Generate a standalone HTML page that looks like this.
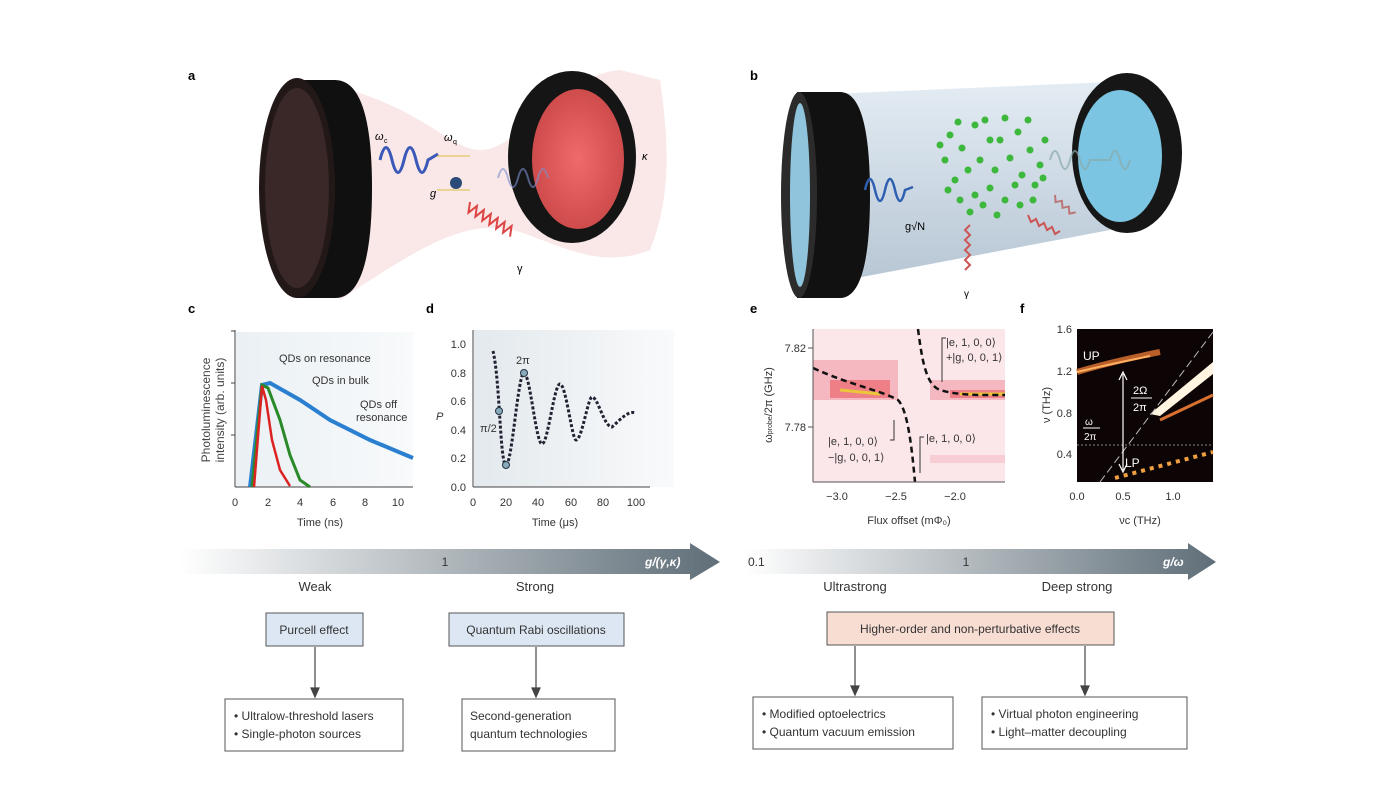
<!DOCTYPE html>
<html><head><meta charset="utf-8"><style>
body{margin:0;background:#fff;}
svg{display:block;font-family:"Liberation Sans",sans-serif;}
</style></head><body>
<svg width="1400" height="800" viewBox="0 0 1400 800" xmlns="http://www.w3.org/2000/svg">
<defs>
<linearGradient id="arrL" x1="0" x2="1" y1="0" y2="0"><stop offset="0" stop-color="#fff"/><stop offset="1" stop-color="#5f6e78"/></linearGradient>
<linearGradient id="tube" x1="0" x2="0" y1="0" y2="1"><stop offset="0" stop-color="#e4ecf3"/><stop offset="0.5" stop-color="#cdd9e4"/><stop offset="1" stop-color="#b7c6d4"/></linearGradient>
<radialGradient id="redface" cx="0.5" cy="0.5" r="0.6"><stop offset="0" stop-color="#f06a6a"/><stop offset="1" stop-color="#c94646"/></radialGradient>
<linearGradient id="bgc" x1="0" x2="1"><stop offset="0" stop-color="#eaf0f4"/><stop offset="1" stop-color="#f8fafb"/></linearGradient>
<linearGradient id="bgd" x1="0" x2="1"><stop offset="0" stop-color="#e3e9ed"/><stop offset="1" stop-color="#f9fafb"/></linearGradient>
</defs>

<!-- Panel a -->
<text x="188" y="80" font-size="13" font-weight="bold">a</text>
<path d="M330,85 C420,105 450,150 480,150 C520,150 560,75 620,70 L660,80 C670,150 670,200 650,250 C600,270 560,245 520,232 C470,218 430,240 340,300 Z" fill="#f9e4e4" opacity="0.9"/>
<path d="M297,80 L335,80 Q372,80 372,188 Q372,298 335,298 L297,298 Z" fill="#101010"/>
<ellipse cx="297" cy="188" rx="38" ry="110" fill="#231818"/>
<ellipse cx="297" cy="188" rx="32" ry="100" fill="#3a2727"/>
<ellipse cx="572" cy="157" rx="64" ry="86" fill="#151515"/>
<ellipse cx="578" cy="159" rx="46" ry="70" fill="url(#redface)"/>
<path d="M380,160 q6,-25 12,0 t12,0 t12,0 t12,0 l10,-6" fill="none" stroke="#3a58b8" stroke-width="3"/>
<path d="M498,178 q5,-18 10,0 t10,0 t10,0 t10,0 t10,0" fill="none" stroke="#7b90d0" stroke-width="2" opacity="0.6"/>
<path d="M470,202 l4,10 l4,-10 l4,10 l4,-10 l4,10 l4,-10 l4,10 l4,-10 l4,10 l4,-10 l4,10 l4,-10 l4,10" fill="none" stroke="#d44" stroke-width="2" transform="rotate(30 470 202)"/>
<circle cx="456" cy="183" r="6" fill="#2a4a78"/>
<line x1="437" y1="156" x2="470" y2="156" stroke="#d8c040" stroke-width="1"/>
<line x1="437" y1="190" x2="470" y2="190" stroke="#d8c040" stroke-width="1"/>
<text x="375" y="140" font-size="11" font-style="italic">ω</text><text x="384" y="143" font-size="7">c</text>
<text x="444" y="141" font-size="11" font-style="italic">ω</text><text x="453" y="144" font-size="7">q</text>
<text x="430" y="197" font-size="11" font-style="italic">g</text>
<text x="642" y="160" font-size="11" font-style="italic">κ</text>
<text x="517" y="272" font-size="11">γ</text>

<!-- Panel b -->
<text x="750" y="80" font-size="13" font-weight="bold">b</text>
<path d="M830,94 L1110,82 L1110,230 L830,283 Z" fill="url(#tube)"/>
<path d="M797,92 L840,92 Q870,92 870,195 Q870,298 840,298 L797,298 Z" fill="#111"/>
<ellipse cx="799" cy="195" rx="18" ry="103" fill="#2b2b2b"/>
<ellipse cx="800" cy="195" rx="10" ry="92" fill="#8fc4dc"/>
<ellipse cx="1127" cy="153" rx="55" ry="80" fill="#161616"/>
<ellipse cx="1120" cy="156" rx="42" ry="66" fill="#7cc5e2"/>
<g fill="#3db83d">
<circle cx="950" cy="135" r="3.5"/><circle cx="962" cy="148" r="3.5"/><circle cx="945" cy="160" r="3.5"/><circle cx="975" cy="125" r="3.5"/><circle cx="990" cy="140" r="3.5"/><circle cx="1005" cy="118" r="3.5"/><circle cx="1018" cy="132" r="3.5"/><circle cx="1030" cy="150" r="3.5"/><circle cx="1040" cy="165" r="3.5"/><circle cx="955" cy="180" r="3.5"/><circle cx="968" cy="170" r="3.5"/><circle cx="980" cy="160" r="3.5"/><circle cx="995" cy="170" r="3.5"/><circle cx="1010" cy="158" r="3.5"/><circle cx="1022" cy="175" r="3.5"/><circle cx="1035" cy="185" r="3.5"/><circle cx="960" cy="200" r="3.5"/><circle cx="975" cy="195" r="3.5"/><circle cx="990" cy="188" r="3.5"/><circle cx="1005" cy="200" r="3.5"/><circle cx="1020" cy="205" r="3.5"/><circle cx="970" cy="212" r="3.5"/><circle cx="997" cy="215" r="3.5"/><circle cx="985" cy="120" r="3.5"/><circle cx="1028" cy="120" r="3.5"/><circle cx="940" cy="145" r="3.5"/><circle cx="1045" cy="140" r="3.5"/><circle cx="958" cy="122" r="3.5"/><circle cx="1000" cy="140" r="3.5"/><circle cx="1015" cy="185" r="3.5"/><circle cx="948" cy="190" r="3.5"/><circle cx="983" cy="205" r="3.5"/><circle cx="1033" cy="200" r="3.5"/><circle cx="1043" cy="178" r="3.5"/>
</g>
<path d="M865,190 q5,-22 10,0 t10,0 t10,0 t10,0 l8,-3" fill="none" stroke="#2f5fb0" stroke-width="2.5"/>
<path d="M1050,160 q5,-18 10,0 t10,0 t10,0 t10,0 l20,0 q5,-18 10,0 t10,0" fill="none" stroke="#8aa" stroke-width="2" opacity="0.7"/>
<path d="M970,225 l-5,5 l5,5 l-5,5 l5,5 l-5,5 l5,5 l-5,5 l5,5 l-5,5" fill="none" stroke="#c55" stroke-width="2"/>
<path d="M1028,215 l3,7 l5,-3 l3,7 l5,-3 l3,7 l5,-3 l3,7 l5,-3" fill="none" stroke="#c55" stroke-width="2"/>
<path d="M1055,195 l5,5 l4,-5 l5,5 l4,-5 l5,5 l4,-5" fill="none" stroke="#b77" stroke-width="2" transform="rotate(40 1055 195)"/>
<text x="905" y="230" font-size="11">g√N</text>
<text x="964" y="297" font-size="10">γ</text>

<!-- Panel c -->
<text x="188" y="313" font-size="13" font-weight="bold">c</text>
<rect x="236" y="332" width="177" height="155" fill="url(#bgc)"/>
<line x1="235" y1="330" x2="235" y2="487" stroke="#444"/>
<line x1="235" y1="487" x2="413" y2="487" stroke="#444"/>
<g stroke="#444"><line x1="231" y1="383" x2="235" y2="383"/><line x1="231" y1="435" x2="235" y2="435"/><line x1="231" y1="331" x2="235" y2="331"/></g>
<path d="M250,487 L262,385 L270,383 L300,400 L330,420 L370,440 L413,458" fill="none" stroke="#2a7fd0" stroke-width="4"/>
<path d="M252,487 L262,385 L268,388 L280,420 L290,455 L300,480 L310,487" fill="none" stroke="#2a8a2a" stroke-width="3"/>
<path d="M254,487 L262,386 L266,400 L272,440 L280,470 L290,486" fill="none" stroke="#d22" stroke-width="2.5"/>
<g font-size="11" fill="#333" text-anchor="middle">
<text x="235" y="506">0</text><text x="268" y="506">2</text><text x="300" y="506">4</text><text x="333" y="506">6</text><text x="365" y="506">8</text><text x="398" y="506">10</text>
<text x="320" y="526">Time (ns)</text>
</g>
<text x="279" y="362" font-size="11" fill="#333">QDs on resonance</text>
<text x="312" y="384" font-size="11" fill="#333">QDs in bulk</text>
<text x="360" y="408" font-size="11" fill="#333">QDs off</text>
<text x="356" y="421" font-size="11" fill="#333">resonance</text>
<text transform="translate(210,410) rotate(-90)" font-size="12" fill="#444" text-anchor="middle">Photoluminescence</text>
<text transform="translate(224,410) rotate(-90)" font-size="12" fill="#444" text-anchor="middle">intensity (arb. units)</text>

<!-- Panel d -->
<text x="426" y="313" font-size="13" font-weight="bold">d</text>
<rect x="474" y="330" width="200" height="157" fill="url(#bgd)"/>
<line x1="473" y1="330" x2="473" y2="487" stroke="#444"/>
<line x1="473" y1="487" x2="650" y2="487" stroke="#444"/>
<path d="M493,351 C500,380 500,465 506,465 C512,465 518,373 524,373 C530,373 536,444 542,444 C548,444 554,384 560,384 C566,384 572,440 576,440 C582,440 588,397 592,397 C598,397 604,427 612,427 C620,420 628,410 636,413" fill="none" stroke="#223" stroke-width="3" stroke-dasharray="3 2"/>
<circle cx="499" cy="411" r="3.5" fill="#8ab" stroke="#234"/><circle cx="506" cy="465" r="3.5" fill="#8ab" stroke="#234"/><circle cx="524" cy="373" r="3.5" fill="#8ab" stroke="#234"/>
<g font-size="11" fill="#333" text-anchor="end">
<text x="466" y="491">0.0</text><text x="466" y="462">0.2</text><text x="466" y="434">0.4</text><text x="466" y="405">0.6</text><text x="466" y="377">0.8</text><text x="466" y="348">1.0</text>
</g>
<g font-size="11" fill="#333" text-anchor="middle">
<text x="473" y="506">0</text><text x="506" y="506">20</text><text x="538" y="506">40</text><text x="571" y="506">60</text><text x="603" y="506">80</text><text x="636" y="506">100</text>
<text x="555" y="526">Time (μs)</text>
</g>
<text x="480" y="432" font-size="11" fill="#333">π/2</text>
<text x="516" y="364" font-size="11" fill="#333">2π</text>
<text x="436" y="420" font-size="11" font-style="italic" fill="#333">P</text>

<!-- Panel e -->
<text x="750" y="313" font-size="13" font-weight="bold">e</text>
<rect x="813" y="329" width="192" height="153" fill="#fbe6e9"/>
<rect x="813" y="360" width="85" height="40" fill="#f5b8c0"/>
<rect x="830" y="380" width="60" height="18" fill="#ee7f86"/>
<rect x="930" y="380" width="75" height="20" fill="#f5b8c0"/>
<rect x="950" y="390" width="55" height="8" fill="#ee7f86"/>
<line x1="840" y1="390" x2="880" y2="394" stroke="#ecc63a" stroke-width="3"/>
<line x1="960" y1="394" x2="1005" y2="394" stroke="#ecc63a" stroke-width="3"/>
<rect x="930" y="455" width="75" height="8" fill="#f8cdd3"/>
<path d="M813,368 C850,385 880,390 898,400 C908,410 912,450 915,482" fill="none" stroke="#111" stroke-width="2.5" stroke-dasharray="6 4"/>
<path d="M918,329 C922,360 926,385 940,390 C960,396 985,395 1005,395" fill="none" stroke="#111" stroke-width="2.5" stroke-dasharray="6 4"/>
<line x1="813" y1="329" x2="813" y2="482" stroke="#555"/>
<line x1="813" y1="482" x2="1005" y2="482" stroke="#555"/>
<g stroke="#555"><line x1="808" y1="348" x2="813" y2="348"/><line x1="808" y1="427" x2="813" y2="427"/></g>
<g font-size="11" fill="#333" text-anchor="middle">
<text x="837" y="500">−3.0</text><text x="896" y="500">−2.5</text><text x="955" y="500">−2.0</text>
<text x="909" y="524">Flux offset (mΦ₀)</text>
</g>
<text x="806" y="352" font-size="11" fill="#333" text-anchor="end">7.82</text>
<text x="806" y="431" font-size="11" fill="#333" text-anchor="end">7.78</text>
<text transform="translate(772,405) rotate(-90)" font-size="11" fill="#333" text-anchor="middle">ω<tspan font-size="7">probe</tspan>/2π (GHz)</text>
<g font-size="11" fill="#333">
<text x="946" y="346">|e, 1, 0, 0⟩</text><text x="946" y="361">+|g, 0, 0, 1⟩</text>
<text x="828" y="445">|e, 1, 0, 0⟩</text><text x="828" y="461">−|g, 0, 0, 1⟩</text>
<text x="926" y="442">|e, 1, 0, 0⟩</text>
</g>
<path d="M946,338 l-4,0 l0,44" fill="none" stroke="#333"/>
<path d="M890,440 l4,0 l0,-20" fill="none" stroke="#333"/>
<path d="M924,437 l-4,0 l0,36" fill="none" stroke="#333"/>

<!-- Panel f -->
<text x="1020" y="313" font-size="13" font-weight="bold">f</text>
<rect x="1077" y="329" width="136" height="153" fill="#0d0505"/>
<path d="M1077,372 Q1110,362 1160,352" fill="none" stroke="#d87030" stroke-width="6" opacity="0.85"/>
<path d="M1077,372 Q1110,364 1150,356" fill="none" stroke="#ffb060" stroke-width="2"/>
<path d="M1150,414 L1213,362 L1213,374 L1160,416 Z" fill="#fff5e0"/>
<path d="M1160,420 L1213,395" stroke="#d87030" stroke-width="3"/>
<path d="M1100,482 L1213,332" fill="none" stroke="#bbb" stroke-width="1" stroke-dasharray="8 4"/>
<path d="M1115,478 L1213,452" fill="none" stroke="#f0a040" stroke-width="4" stroke-dasharray="4 5"/>
<line x1="1077" y1="445" x2="1213" y2="445" stroke="#888" stroke-dasharray="2 2"/>
<line x1="1123" y1="374" x2="1123" y2="470" stroke="#fff" stroke-width="1.2"/>
<path d="M1119,380 L1123,372 L1127,380 M1119,464 L1123,472 L1127,464" fill="none" stroke="#fff" stroke-width="1.2"/>
<text x="1083" y="360" font-size="12" fill="#fff">UP</text>
<text x="1125" y="467" font-size="12" fill="#fff">LP</text>
<text x="1133" y="394" font-size="11" fill="#fff">2Ω</text><line x1="1131" y1="398" x2="1152" y2="398" stroke="#fff"/><text x="1133" y="411" font-size="11" fill="#fff">2π</text>
<text x="1085" y="425" font-size="10" fill="#fff">ω</text><line x1="1083" y1="428" x2="1100" y2="428" stroke="#fff"/><text x="1084" y="440" font-size="10" fill="#fff">2π</text>
<g font-size="11" fill="#333" text-anchor="end">
<text x="1072" y="333">1.6</text><text x="1072" y="375">1.2</text><text x="1072" y="417">0.8</text><text x="1072" y="458">0.4</text>
</g>
<g font-size="11" fill="#333" text-anchor="middle">
<text x="1077" y="500">0.0</text><text x="1123" y="500">0.5</text><text x="1173" y="500">1.0</text>
<text x="1140" y="524">νc (THz)</text>
</g>
<text transform="translate(1050,405) rotate(-90)" font-size="11" fill="#333" text-anchor="middle">ν (THz)</text>

<!-- Arrows -->
<path d="M180,549 L690,549 L690,543 L720,562 L690,580 L690,574 L180,574 Z" fill="url(#arrL)"/>
<path d="M745,549 L1188,549 L1188,543 L1216,562 L1188,580 L1188,574 L745,574 Z" fill="url(#arrL)"/>
<text x="445" y="566" font-size="12" fill="#333" text-anchor="middle">1</text>
<text x="645" y="566" font-size="12" fill="#fff" font-style="italic" font-weight="bold">g/(γ,κ)</text>
<text x="748" y="566" font-size="12" fill="#333">0.1</text>
<text x="966" y="566" font-size="12" fill="#333" text-anchor="middle">1</text>
<text x="1163" y="566" font-size="12" fill="#fff" font-style="italic" font-weight="bold">g/ω</text>
<g font-size="13" fill="#333" text-anchor="middle">
<text x="315" y="591">Weak</text><text x="535" y="591">Strong</text>
<text x="855" y="591">Ultrastrong</text><text x="1077" y="591">Deep strong</text>
</g>

<!-- Boxes -->
<rect x="266" y="613" width="97" height="33" fill="#dde7f3" stroke="#555"/>
<text x="314" y="634" font-size="12" fill="#333" text-anchor="middle">Purcell effect</text>
<rect x="449" y="613" width="175" height="33" fill="#dde7f3" stroke="#555"/>
<text x="536" y="634" font-size="12" fill="#333" text-anchor="middle">Quantum Rabi oscillations</text>
<rect x="827" y="612" width="287" height="33" fill="#f8ddd3" stroke="#555"/>
<text x="970" y="633" font-size="12" fill="#333" text-anchor="middle">Higher-order and non-perturbative effects</text>

<g stroke="#444" stroke-width="1.2" fill="#444">
<line x1="315" y1="647" x2="315" y2="690"/><path d="M311,688 L315,697 L319,688 Z"/>
<line x1="536" y1="647" x2="536" y2="690"/><path d="M532,688 L536,697 L540,688 Z"/>
<line x1="855" y1="646" x2="855" y2="688"/><path d="M851,686 L855,695 L859,686 Z"/>
<line x1="1085" y1="646" x2="1085" y2="688"/><path d="M1081,686 L1085,695 L1089,686 Z"/>
</g>

<g font-size="12" fill="#333">
<rect x="225" y="699" width="178" height="52" fill="#fff" stroke="#555"/>
<text x="234" y="720">• Ultralow-threshold lasers</text><text x="234" y="738">• Single-photon sources</text>
<rect x="462" y="699" width="153" height="52" fill="#fff" stroke="#555"/>
<text x="470" y="720">Second-generation</text><text x="470" y="738">quantum technologies</text>
<rect x="753" y="697" width="200" height="52" fill="#fff" stroke="#555"/>
<text x="762" y="718">• Modified optoelectrics</text><text x="762" y="736">• Quantum vacuum emission</text>
<rect x="982" y="697" width="205" height="52" fill="#fff" stroke="#555"/>
<text x="991" y="718">• Virtual photon engineering</text><text x="991" y="736">• Light–matter decoupling</text>
</g>
</svg>
</body></html>
